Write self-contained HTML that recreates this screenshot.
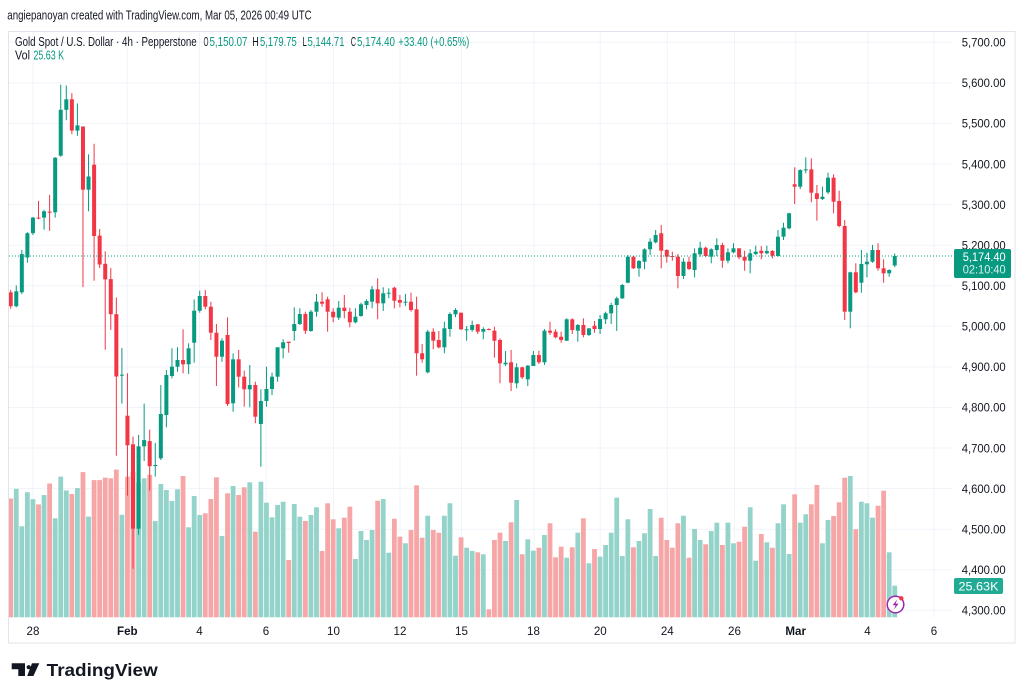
<!DOCTYPE html>
<html>
<head>
<meta charset="utf-8">
<style>
html,body{margin:0;padding:0;background:#ffffff;}
body{width:1024px;height:699px;overflow:hidden;}
svg{display:block;font-family:"Liberation Sans",Arial,sans-serif;}
</style>
</head>
<body>
<svg id="chart" width="1024" height="699" viewBox="0 0 1024 699" xmlns="http://www.w3.org/2000/svg">
  <rect x="0" y="0" width="1024" height="699" fill="#ffffff"/>

  <!-- header -->
  <text x="7.3" y="19.5" font-size="12.5" fill="#131722" textLength="304.4" lengthAdjust="spacingAndGlyphs">angiepanoyan created with TradingView.com, Mar 05, 2026 00:49 UTC</text>

  <!-- frame -->
  <rect x="8.5" y="31.5" width="1006.5" height="611.5" fill="none" stroke="#e0e3eb" stroke-width="1"/>

  <!-- grid -->
  <g id="grid" stroke="#f0f3fa" stroke-width="1"></g>

  <defs>
    <clipPath id="pane"><rect x="9" y="32" width="944" height="585.5"/></clipPath>
  </defs>

  <g clip-path="url(#pane)">
    <g id="vols"></g>
    <g id="cands"></g>
    <line x1="9" y1="256" x2="953" y2="256" stroke="#089981" stroke-width="1" stroke-dasharray="1 2"/>
  </g>

  <!-- legend -->
  <g font-size="12.5">
    <text x="15" y="46" fill="#131722" textLength="181.7" lengthAdjust="spacingAndGlyphs">Gold Spot / U.S. Dollar · 4h · Pepperstone</text>
    <text x="203.5" y="46" fill="#131722" textLength="5" lengthAdjust="spacingAndGlyphs">O</text>
    <text x="209.5" y="46" fill="#089981" textLength="38" lengthAdjust="spacingAndGlyphs">5,150.07</text>
    <text x="252.3" y="46" fill="#131722" textLength="6.5" lengthAdjust="spacingAndGlyphs">H</text>
    <text x="260" y="46" fill="#089981" textLength="36.7" lengthAdjust="spacingAndGlyphs">5,179.75</text>
    <text x="302.5" y="46" fill="#131722" textLength="4.3" lengthAdjust="spacingAndGlyphs">L</text>
    <text x="307.5" y="46" fill="#089981" textLength="37" lengthAdjust="spacingAndGlyphs">5,144.71</text>
    <text x="350.8" y="46" fill="#131722" textLength="5.3" lengthAdjust="spacingAndGlyphs">C</text>
    <text x="357" y="46" fill="#089981" textLength="38" lengthAdjust="spacingAndGlyphs">5,174.40</text>
    <text x="398.3" y="46" fill="#089981" textLength="71" lengthAdjust="spacingAndGlyphs">+33.40 (+0.65%)</text>
    <text x="15" y="59.5" fill="#131722" textLength="15" lengthAdjust="spacingAndGlyphs">Vol</text>
    <text x="33.5" y="59.5" fill="#089981" textLength="30.5" lengthAdjust="spacingAndGlyphs">25.63 K</text>
  </g>

  <!-- price axis labels -->
  <g font-size="11.6" fill="#131722">
    <text x="961.7" y="46.6" textLength="44" lengthAdjust="spacingAndGlyphs">5,700.00</text>
    <text x="961.7" y="87.2" textLength="44" lengthAdjust="spacingAndGlyphs">5,600.00</text>
    <text x="961.7" y="127.7" textLength="44" lengthAdjust="spacingAndGlyphs">5,500.00</text>
    <text x="961.7" y="168.3" textLength="44" lengthAdjust="spacingAndGlyphs">5,400.00</text>
    <text x="961.7" y="208.9" textLength="44" lengthAdjust="spacingAndGlyphs">5,300.00</text>
    <text x="961.7" y="249.4" textLength="44" lengthAdjust="spacingAndGlyphs">5,200.00</text>
    <text x="961.7" y="290.0" textLength="44" lengthAdjust="spacingAndGlyphs">5,100.00</text>
    <text x="961.7" y="330.6" textLength="44" lengthAdjust="spacingAndGlyphs">5,000.00</text>
    <text x="961.7" y="371.2" textLength="44" lengthAdjust="spacingAndGlyphs">4,900.00</text>
    <text x="961.7" y="411.7" textLength="44" lengthAdjust="spacingAndGlyphs">4,800.00</text>
    <text x="961.7" y="452.3" textLength="44" lengthAdjust="spacingAndGlyphs">4,700.00</text>
    <text x="961.7" y="492.9" textLength="44" lengthAdjust="spacingAndGlyphs">4,600.00</text>
    <text x="961.7" y="533.4" textLength="44" lengthAdjust="spacingAndGlyphs">4,500.00</text>
    <text x="961.7" y="574.0" textLength="44" lengthAdjust="spacingAndGlyphs">4,400.00</text>
    <text x="961.7" y="614.6" textLength="44" lengthAdjust="spacingAndGlyphs">4,300.00</text>
  </g>

  <!-- current price label -->
  <rect x="954" y="249" width="57" height="29" rx="2" fill="#089981"/>
  <text x="962.7" y="261.2" font-size="11.8" fill="#ffffff" textLength="43" lengthAdjust="spacingAndGlyphs">5,174.40</text>
  <text x="962.7" y="273.6" font-size="11.8" fill="#ffffff" fill-opacity="0.85" textLength="43" lengthAdjust="spacingAndGlyphs">02:10:40</text>

  <!-- volume label -->
  <rect x="954" y="578" width="49" height="16" rx="2" fill="#22ab94"/>
  <text x="958.5" y="590.3" font-size="11.8" fill="#ffffff" textLength="40" lengthAdjust="spacingAndGlyphs">25.63K</text>

  <!-- time axis labels -->
  <g font-size="11.6" fill="#131722" text-anchor="middle">
    <text x="33" y="635">28</text>
    <text x="127.3" y="635" font-weight="bold">Feb</text>
    <text x="199.5" y="635">4</text>
    <text x="266" y="635">6</text>
    <text x="333.5" y="635">10</text>
    <text x="400" y="635">12</text>
    <text x="461.5" y="635">15</text>
    <text x="533.5" y="635">18</text>
    <text x="600.3" y="635">20</text>
    <text x="667.3" y="635">24</text>
    <text x="734.5" y="635">26</text>
    <text x="795.7" y="635" font-weight="bold">Mar</text>
    <text x="867.5" y="635">4</text>
    <text x="934" y="635">6</text>
  </g>

  <!-- lightning icon -->
  <circle cx="895.5" cy="604.5" r="8.3" fill="#ffffff" stroke="#9c27b0" stroke-width="1.5"/>
  <path d="M897.3 599.3 L892.6 605.3 L895.6 605.3 L893.8 609.8 L898.6 603.6 L895.6 603.6 Z" fill="#9c27b0"/>
  <circle cx="901.3" cy="598.3" r="2.2" fill="#f23645"/>

  <!-- TradingView logo -->
  <path d="M11.7 663.3 H25 V676 H18.3 V669.3 H11.7 Z" fill="#131722"/>
  <circle cx="28.7" cy="667.2" r="2.1" fill="#131722"/>
  <polygon points="32,663.3 39.3,663.3 33.4,676 27.2,676" fill="#131722"/>
  <text x="46.7" y="676" font-size="17.6" font-weight="bold" fill="#131722" textLength="111" lengthAdjust="spacingAndGlyphs">TradingView</text>
</svg>

<script>
(function(){
  var grid = '';
  var vx = [33,127.3,199.5,266,333.5,400,461.5,534,600.3,667.3,734.5,795.7,868,934];
  vx.forEach(function(x){ grid += '<line x1="'+x+'" y1="32" x2="'+x+'" y2="617.5"/>'; });
  for (var k=0;k<15;k++){ var y=(42.3+k*40.571).toFixed(1); grid += '<line x1="9" y1="'+y+'" x2="953" y2="'+y+'"/>'; }
  document.getElementById('grid').innerHTML = grid;

  var D = [
  [292.3,289.9,308.7,306.2,0,498.5],[306.2,285.4,307.3,291.3,1,488.8],[292.3,249.9,294.1,254.1,1,526.3],[257.5,232.2,262.8,233.2,1,492.2],
  [233.2,216.9,235,217.6,1,499.2],[217.6,200.9,219.3,218.3,0,504.4],[217.6,209.9,229.7,211.3,1,495],[211.6,195,230.8,212.7,0,483.5],
  [212.3,157.1,217.6,157.8,1,518.3],[155.7,84.7,156.7,109.8,1,476.6],[109.8,85.4,120.2,99.3,1,490.5],[99.3,93.1,134.1,130.6,0,494],
  [130.6,103.5,135.8,125.4,1,488.1],[126.5,126.5,287.1,189.7,0,472.1],[189.7,154.3,211.3,176.5,1,516.6],[164.7,143.8,280.8,236,0,480.1],
  [235.6,229,268,264.5,0,480.1],[263.8,251.3,349.7,279.4,0,477.6],[279.1,268,329.9,314.2,0,478.3],[314.2,297.5,455.7,376.5,0,469.6],
  [375.7,348,403.6,374.7,1,514.8],[415.7,373.3,495.7,445.3,0,476.6],[444.3,436.6,568.7,528.7,0,472.1],[528.7,434.9,534.7,446.3,1,482.5],
  [446.3,403.6,461,440.1,1,478.3],[441.1,429.6,490.5,466.2,0,474.8],[465.2,442.9,476.6,465,1,521.1],[458.3,385,460,414,1,484],
  [415,370,427.3,375,1,490],[376,348.3,378.3,366.7,1,501],[366.7,347.3,371.7,360,1,489.3],[360,329.3,373.3,364.3,0,476],
  [364.3,343.3,374,348.3,1,527.3],[342.7,299.3,362.7,310.7,1,496],[310.7,290.7,312.7,296,1,515],[296,290,309.3,306.7,0,513.3],
  [306.7,301.7,340,332.7,0,499],[332.7,324,386,356.7,0,477.3],[356.7,338.3,361.7,340.7,1,536],[335,317.3,406,404,0,493.3],
  [403.3,353.3,411.7,359.3,1,486],[359.3,350,387.3,376.7,0,495],[376.7,370.7,406.7,389.3,0,487.3],[389.3,365,407.3,385,1,482.3],
  [385,381.7,423.3,416.7,0,531.7],[424,389.3,466.7,401,1,481.7],[401,366.7,406.7,389,1,502.7],[389,372.7,395,376.7,1,517.3],
  [376.7,347.3,381.7,347.3,1,505],[348.3,339.3,358.3,342.3,1,501.7],[341.7,341.7,352.7,343,0,560],[331,307.3,340.7,324,1,504],
  [324,308.3,325,314,1,516.7],[314,311.7,334,330.7,0,521],[331,310,331.7,311.7,1,515],[311.7,294,316.7,301.7,1,507.3],
  [301.7,292.3,306.7,303.7,0,551],[299.3,296.7,331.7,311.7,0,503.3],[311.7,308.3,322.3,317.3,0,519.3],[317.7,301,320,307.7,1,528.3],
  [307.7,295,318.3,311,0,517.7],[311.7,307.7,327.3,322.3,0,506.7],[322.3,308.3,323.3,316.7,1,559],[316,302.7,316.7,304.3,1,531],
  [305,299.3,309.3,301,1,540],[301.7,286,308.3,289.3,1,530],[289.3,278.3,319.3,303.3,0,500.7],[303.3,287.3,311,293.3,1,499],
  [293.3,288.3,298.3,292.7,1,552.7],[287.7,286.7,308.3,300.7,0,518.7],[300,295,307.3,302.7,0,536.7],[302.7,294,306,301.7,1,543.3],
  [301.7,292.7,311.7,310,0,530],[309.3,296.7,375.7,353.3,0,485.3],[353.3,344,362.7,359.3,0,537.7],[372.3,330,373.3,331.7,1,515.7],
  [331.7,328.3,349.3,340.7,0,530],[340,331,348.3,347.3,0,532.7],[347.3,321.7,353.3,328.3,1,515.7],[329,312.3,336.7,314,1,503.3],
  [314.3,308.3,317.3,310,1,555.7],[312.7,312.7,330,329.3,0,537.3],[329.7,326,340.7,329.3,1,547.7],[330,320.7,331.7,325,1,551],
  [324.3,324,334,331.7,0,552.3],[331.7,327.3,339.3,329,1,554.3],[329,328.3,330.3,329.7,0,609.3],[330.7,326.7,357.7,340.7,0,540],
  [340,338.3,383.3,363.3,0,532.7],[364.3,351,366,362.7,1,541],[362.3,350,391,382.7,0,522.3],[383.3,363.3,388.3,367.3,1,500],
  [367.3,366.7,379,377.3,0,554.3],[379.3,365,386,365.7,1,539.3],[366,351,366,355,1,550.7],[355,350.7,364,362.3,0,547.7],
  [362.3,329,365,330.7,1,535],[330.7,321.7,335,332.7,0,523.3],[331.7,329.3,338.3,337.3,0,557.3],[336.7,331.7,342.7,340,0,546.7],
  [340.7,318.3,341,319.3,1,557.7],[319.3,318.3,334,330,0,547.3],[330.7,324,341.7,325,1,532.7],[325,318.3,337.3,335,0,518.3],
  [335,328.3,336,328.3,1,563.3],[325.7,321,332.7,329,0,549],[329,315,334,319,1,556.7],[319.3,311.7,324,313.3,1,545],
  [313.3,302.7,324,305,1,532.7],[305,296.7,331,298.3,1,497.7],[298.3,284,299,285,1,556],[282.7,255,283.3,256.7,1,519.3],
  [256.7,256,269,268.3,0,547.3],[268.3,260,276.7,261,1,541],[261.7,248.3,269.3,249.3,1,533.3],[249.3,238.3,255,241.7,1,509],
  [242.3,230,243.3,235,1,556],[233.3,225,268.3,250.7,0,517.7],[250,249.3,262.7,256.7,0,540],[256,251.7,260.7,256.7,0,547.7],
  [256.7,254,288.3,276,0,523.3],[276,258.3,279,261.7,1,515.7],[261.7,256.7,270,269,0,557.7],[270,248.3,277.3,253.3,1,529],
  [254.3,241.7,256.7,247.7,1,540],[247.7,246.7,257.3,256,0,544.3],[256.7,248.3,263.3,249.3,1,531],[250,238.3,256,245,1,522.7],
  [245,242.7,267.7,260.7,0,545],[260.7,248.3,263.3,252.3,1,522.7],[252.3,243.3,253.3,248.3,1,543.3],[248.3,248.3,259.3,257.3,0,541.7],
  [256.7,250.7,270.7,260.7,0,526.7],[260.7,249.3,273.3,253.3,1,507.3],[254,245.7,255,251.7,1,560.7],[250.7,246,259.3,253.3,0,534],
  [253.3,245.7,254.3,251,1,542.3],[251,250,258.3,255.7,0,547.7],[256,230,256.7,236.7,1,523.3],[236.7,222.7,240,227.7,1,504.3],
  [228.3,212.7,229.3,213.3,1,554],[184.3,167.3,204,186.7,0,494.3],[186.7,169.3,189,170,1,522.7],[170,157.3,173.3,169.3,1,514.3],
  [169.3,158.3,202.3,192.7,0,504.3],[193.3,185,220.7,199,0,485],[199,186.7,200,196.7,1,543.3],[192.3,172.7,194,177.7,1,520],
  [177.7,174.3,213.3,201.7,0,516],[201,190.7,227.3,226,0,502.3],[226,220,320,311.7,0,477.7],[311.7,271.7,328.3,272.3,1,476],
  [272.3,263.3,293.3,292.3,0,529.3],[282.7,250,292.7,264,1,501.7],[264.3,252.7,277.3,261.7,1,503.3],[261.7,245,262.7,250,1,517.7],
  [250,243.3,270.7,268.3,0,505.7],[268.3,259.3,282.7,273.3,0,490.7],[273.3,269.3,276.7,270,1,552.3],[265.5,253.5,267.3,256,1,585.7]
  ];
  var vs='', cs='';
  for (var i=0;i<D.length;i++){
    var d=D[i], x=10.7+5.56*i;
    var o=d[0],h=d[1],l=d[2],c=d[3],u=d[4],v=d[5];
    var col=u?'#089981':'#f23645';
    var vc=u?'#94d3c9':'#f6a6a6';
    vs += '<rect x="'+(x-2.4).toFixed(2)+'" y="'+v+'" width="4.8" height="'+(617.3-v).toFixed(2)+'" fill="'+vc+'"/>';
    var top=Math.min(o,c), bh=Math.max(1,Math.abs(o-c));
    cs += '<line x1="'+x.toFixed(2)+'" x2="'+x.toFixed(2)+'" y1="'+h+'" y2="'+l+'" stroke="'+col+'" stroke-width="1"/>';
    cs += '<rect x="'+(x-2).toFixed(2)+'" y="'+top+'" width="4" height="'+bh.toFixed(2)+'" fill="'+col+'"/>';
  }
  document.getElementById('vols').innerHTML = vs;
  document.getElementById('cands').innerHTML = cs;
})();
</script>
</body>
</html>
